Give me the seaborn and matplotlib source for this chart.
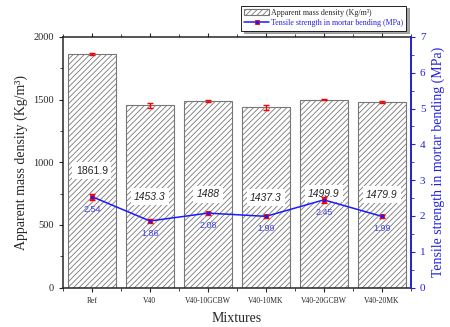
import numpy as np
import pandas as pd
import matplotlib
matplotlib.use("Agg")
import matplotlib.pyplot as plt
import seaborn as sns
from matplotlib.ticker import MultipleLocator

mixtures = ['Ref', 'V40', 'V40-10GCBW', 'V40-10MK', 'V40-20GCBW', 'V40-20MK']
density = [1861.9, 1453.3, 1488, 1437.3, 1499.9, 1479.9]
density_err = [8, 18, 8, 22, 5, 8]
strength = [2.54, 1.86, 2.08, 1.99, 2.45, 1.99]
strength_err = [0.08, 0.05, 0.04, 0.04, 0.08, 0.04]

df = pd.DataFrame({'mix': mixtures, 'density': density, 'strength': strength})

sns.set_style('ticks')
plt.rcParams['font.family'] = ['Liberation Serif', 'DejaVu Serif']
plt.rcParams['hatch.linewidth'] = 0.6
plt.rcParams['hatch.color'] = '#777777'

fig = plt.figure(figsize=(4.5, 3.27), dpi=100)
ax = fig.add_axes([0.14, 0.1205, 0.773, 0.7665])

sns.barplot(data=df, x='mix', y='density', color='white', edgecolor='#777777',
            linewidth=0.8, hatch='//////', width=0.82, ax=ax, zorder=2,
            label='Apparent mass density (Kg/m³)')
if ax.get_legend() is not None:
    ax.get_legend().remove()
ax.errorbar(np.arange(len(mixtures)), density, yerr=density_err, fmt='none',
            ecolor='red', elinewidth=1, capsize=2.5, capthick=1, zorder=3)

# value labels inside the bars, halfway up
for i, v in enumerate(density):
    ax.text(i, v / 2, f'{v:g}', ha='center', va='center', fontsize=7.5,
            family='Liberation Sans', style='normal' if i == 0 else 'italic',
            bbox=dict(facecolor='white', edgecolor='none', pad=2.5), zorder=4)

ax.set_xlim(-0.5, 5.5)
ax.set_ylim(0, 2000)
ax.yaxis.set_major_locator(MultipleLocator(500))
ax.yaxis.set_minor_locator(MultipleLocator(250))
ax.set_xticks(np.arange(len(mixtures)))
ax.set_xticks(np.arange(-0.5, 6, 1), minor=True)
ax.tick_params(axis='x', labelsize=5.5, length=3, direction='out', top=True)
ax.tick_params(axis='x', which='minor', length=2, top=True, bottom=True)
ax.tick_params(axis='y', labelsize=7.5, length=3, direction='out')
ax.tick_params(axis='y', which='minor', length=2, left=True)
ax.set_xlabel('Mixtures', fontsize=10, labelpad=5)
ax.set_ylabel('Apparent mass density (Kg/m³)', fontsize=10, labelpad=4)
for s in ax.spines.values():
    s.set_linewidth(1.1)

ax2 = ax.twinx()
ax2.plot(np.arange(len(mixtures)), strength, color='#1a1aff', lw=1.1,
         marker='s', ms=3.5, mfc='#1a1aff', mec='red', mew=0.6, zorder=5,
         label='Tensile strength in mortar bending (MPa)')
ax2.errorbar(np.arange(len(mixtures)), strength, yerr=strength_err, fmt='none',
             ecolor='red', elinewidth=1, capsize=2.5, capthick=1, zorder=4)
for i, v in enumerate(strength):
    ax2.annotate(f'{v:.2f}', (i, v), xytext=(0, -9), textcoords='offset points',
                 ha='center', va='center', fontsize=6.5, color='#4444ee',
                 family='Liberation Sans')
ax2.set_ylim(0, 7)
ax2.yaxis.set_major_locator(MultipleLocator(1))
ax2.yaxis.set_minor_locator(MultipleLocator(0.5))
ax2.tick_params(axis='y', colors='#2222dd', labelsize=8, length=3, direction='out')
ax2.tick_params(axis='y', which='minor', length=2, colors='#2222dd')
ax2.set_ylabel('Tensile strength in mortar bending (MPa)', fontsize=10,
               color='#2222dd', labelpad=4)
ax2.spines['right'].set_color('#2222dd')
ax2.spines['right'].set_linewidth(1.3)
for k in ['left', 'top', 'bottom']:
    ax2.spines[k].set_visible(False)

h1, l1 = ax.get_legend_handles_labels()
h2, l2 = ax2.get_legend_handles_labels()
leg = fig.legend(h1 + h2, l1 + l2, loc='upper right',
                 bbox_to_anchor=(0.912, 0.995), fontsize=5.8, frameon=True,
                 fancybox=False, shadow=True, handlelength=3, borderpad=0.4,
                 labelspacing=0.3, handletextpad=0.3)
leg.get_frame().set_edgecolor('black')
leg.get_frame().set_linewidth(0.6)
leg.get_texts()[1].set_color('#2222dd')

fig.savefig('out.png', dpi=100)
